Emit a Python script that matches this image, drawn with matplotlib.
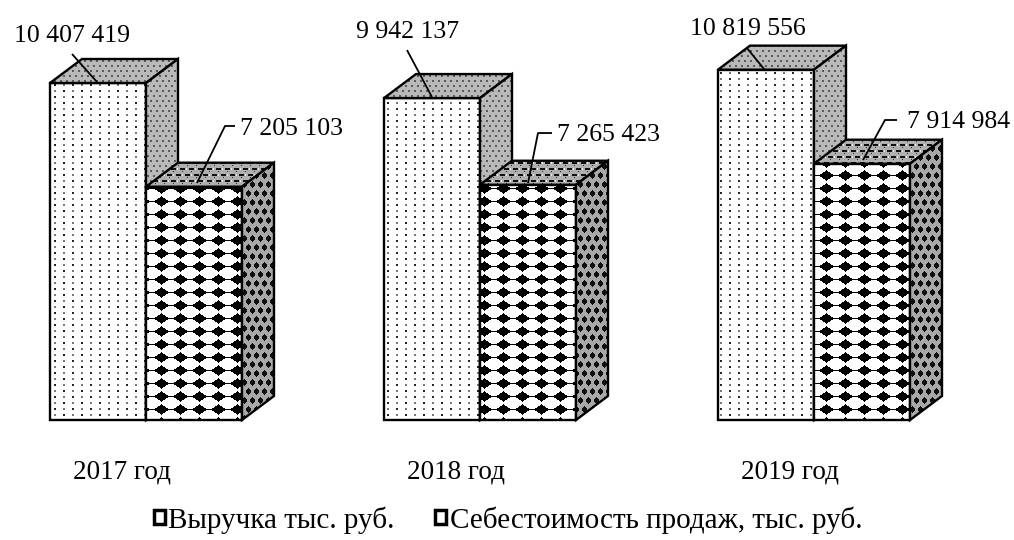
import numpy as np
import matplotlib
matplotlib.use("Agg")
import matplotlib.pyplot as plt
from matplotlib.patches import Polygon, Patch

# ---- data -------------------------------------------------------------
years = ["2017 год", "2018 год", "2019 год"]
revenue = [10407419, 9942137, 10819556]
cost = [7205103, 7265423, 7914984]
series_names = ["Выручка тыс. руб.", "Себестоимость продаж, тыс. руб."]

# ---- layout (pixels) --------------------------------------------------
W, H = 1014, 540
BASE = 420            # baseline position from top, px
UPP = 30882.0         # value units per pixel
GROUP_X0 = [50, 384, 718]
BAR_W = 96
DX, DY_PX = 32, 24
DY = DY_PX * UPP
FONT = "Liberation Serif"

# leader/label offsets relative to the bar's front-left x and top y (px)
REV_LABEL = [  # end(dx,dy), start(dx,dy), text x, text baseline dy
    ((47, -1), (22, -29), 22, -41),
    ((48, -1), (23, -48), 23.5, -60),
    ((47, 0.5), (29, -21.5), 30, -34.5),
]
COST_LABEL = [  # end(dx,dy), elbow(dx,dy), horizontal end dx, text left dx, baseline dy
    ((51, -3.7), (79, -60.7), 89, 94, -52),
    ((48, -1.7), (58, -51.7), 72, 77, -43.7),
    ((49, -3.7), (71, -43.7), 83, 93, -35.7),
]

fig = plt.figure(figsize=(W / 100, H / 100), dpi=100)
ax = fig.add_axes([0, 0, 1, 1])
XLIM = (0, W)
YLIM = (-(H - BASE) * UPP, BASE * UPP)
ax.set_xlim(*XLIM)
ax.set_ylim(*YLIM)
ax.axis("off")


def py(v_px_from_top):
    """Convert px-from-top to data y."""
    return (BASE - v_px_from_top) * UPP


def top_px(v):
    return BASE - v / UPP


# ---- textures ---------------------------------------------------------
def tex_rev_front(gx, gy):
    img = np.full(gx.shape, 255.0)
    grid = (gx % 9 < 2) & (gy % 6 < 2)
    par = ((gx // 9) + (gy // 6)) % 2
    img[grid & (par == 0)] = 35
    img[grid & (par == 1)] = 120
    return img


def tex_rev_shade(gx, gy):
    img = np.full(gx.shape, 185.0)
    sh = 3 * ((gy // 5) % 2)
    m = ((gx + sh) % 6 < 2) & (gy % 5 < 2)
    img[m] = 90
    return img


def tex_cost_front(gx, gy):
    img = np.full(gx.shape, 255.0)
    cx = (gx % 19) - 9.0
    cy = (gy % 13) - 6.0
    dia = np.abs(cx) / 7.5 + np.abs(cy) / 5.2 <= 1.0
    conn = np.abs(cy) <= 0.5
    img[dia | conn] = 0
    return img


def tex_cost_top(gx, gy):
    img = np.full(gx.shape, 175.0)
    sh = 4 * ((gy // 6) % 2)
    m = ((gx + sh) % 9 < 5) & (gy % 6 < 2)
    img[m] = 15
    m2 = ((gx + sh) % 9 == 6) & (gy % 6 < 2)
    img[m2] = 235
    m3 = ((gx + sh) % 9 == 2) & (gy % 6 == 3)
    img[m3] = 40
    return img


def tex_cost_side(gx, gy):
    img = np.full(gx.shape, 168.0)
    sh = 4 * ((gy // 9) % 2)
    cx = ((gx + sh) % 8) - 4.0
    cy = (gy % 9) - 4.0
    m = np.abs(cx) / 2.8 + np.abs(cy) / 3.5 <= 1.0
    img[m] = 15
    return img


zc = [1.0]


def textured_face(verts, tex):
    z = zc[0]
    zc[0] += 1
    poly = Polygon(verts, closed=True, facecolor="none", edgecolor="black",
                   linewidth=1.7, joinstyle="miter", zorder=z + 0.5)
    ax.add_patch(poly)
    xs = [v[0] for v in verts]
    ys = [v[1] for v in verts]
    left, right = np.floor(min(xs)), np.ceil(max(xs))
    top_p = np.floor(BASE - max(ys) / UPP)
    bot_p = np.ceil(BASE - min(ys) / UPP)
    w = int(right - left)
    h = int(bot_p - top_p)
    gx, gy = np.meshgrid(np.arange(w) + int(left), np.arange(h) + int(top_p))
    g = tex(gx, gy).astype(np.uint8)
    rgb = np.dstack([g, g, g])
    im = ax.imshow(rgb, extent=(left, right, py(bot_p), py(top_p)),
                   origin="upper", interpolation="nearest", aspect="auto",
                   zorder=z)
    im.set_clip_path(poly)


def box(x0, v, front, top, side):
    x1 = x0 + BAR_W
    textured_face([(x0, 0), (x1, 0), (x1, v), (x0, v)], front)
    textured_face([(x0, v), (x1, v), (x1 + DX, v + DY), (x0 + DX, v + DY)], top)
    textured_face([(x1, 0), (x1 + DX, DY), (x1 + DX, v + DY), (x1, v)], side)


def fmt(v):
    return f"{v:,}".replace(",", " ")


for i in range(len(years)):
    x0r = GROUP_X0[i]
    x0c = x0r + BAR_W
    box(x0r, revenue[i], tex_rev_front, tex_rev_shade, tex_rev_shade)
    box(x0c, cost[i], tex_cost_front, tex_cost_top, tex_cost_side)

    # revenue label with straight leader
    (ex, ey), (sx, sy), tx, tb = REV_LABEL[i]
    tp = top_px(revenue[i])
    ax.plot([x0r + sx, x0r + ex], [py(tp + sy), py(tp + ey)], color="black",
            lw=1.3, zorder=50, solid_capstyle="butt")
    ax.text(x0r + tx, py(tp + tb), fmt(revenue[i]), ha="center", va="baseline",
            fontsize=18.5, family=FONT, zorder=60,
            bbox=dict(facecolor="white", edgecolor="none", pad=2.5))

    # cost label with elbow leader
    (ex, ey), (bx, by), hx, tl, tb = COST_LABEL[i]
    tp = top_px(cost[i])
    ax.plot([x0c + ex, x0c + bx, x0c + hx],
            [py(tp + ey), py(tp + by), py(tp + by)], color="black", lw=1.3,
            zorder=50, solid_capstyle="butt")
    ax.text(x0c + tl, py(tp + tb), fmt(cost[i]), ha="left", va="baseline",
            fontsize=18.5, family=FONT, zorder=60)

    # category label
    ax.text(x0r + 72, py(478), years[i], ha="center", va="baseline",
            fontsize=19.5, family=FONT, zorder=60)

ax.set_xlim(*XLIM)
ax.set_ylim(*YLIM)

handles = [Patch(facecolor="white", edgecolor="black", linewidth=2.5, label=n)
           for n in series_names]
fig.legend(handles=handles, loc="center", bbox_to_anchor=(508 / W, 20 / H),
           ncol=2, frameon=False, prop={"family": FONT, "size": 21},
           handlelength=0.38, handleheight=0.38, handletextpad=0.12,
           columnspacing=1.4, borderaxespad=0)

fig.savefig("out.png", dpi=100)
